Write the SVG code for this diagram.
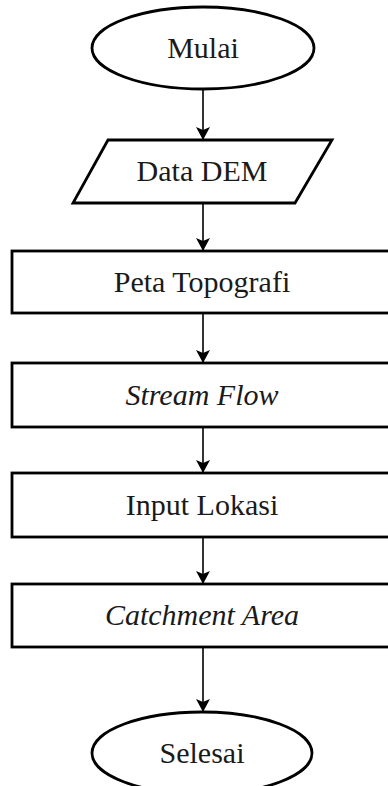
<svg xmlns="http://www.w3.org/2000/svg" width="388" height="786" viewBox="0 0 388 786">
<style>
.shape{fill:#fff;stroke:#000;stroke-width:2.8}
.lbl{font-family:"Liberation Serif","Times New Roman",serif;font-size:30px;fill:#1a1a1a;text-anchor:middle}
.it{font-style:italic}
.conn{stroke:#000;stroke-width:1.6;fill:none;marker-end:url(#arrd)}
</style>
<defs>
<marker id="arrd" markerUnits="userSpaceOnUse" markerWidth="14" markerHeight="14" viewBox="0 0 14 14" refX="7" refY="13" orient="0">
<path d="M0,0 L7,3 L14,0 L7,13 Z" fill="#000"/>
</marker>
</defs>
<g id="connectors">
<line class="conn" x1="203" y1="89" x2="203" y2="140"/>
<line class="conn" x1="203" y1="203" x2="203" y2="251"/>
<line class="conn" x1="203" y1="313" x2="203" y2="363"/>
<line class="conn" x1="203" y1="427" x2="203" y2="473"/>
<line class="conn" x1="203" y1="537" x2="203" y2="584"/>
<line class="conn" x1="203" y1="647" x2="203" y2="712"/>
</g>
<g id="mulai">
<ellipse class="shape" cx="203" cy="48" rx="111" ry="41"/>
<text class="lbl" x="203" y="58">Mulai</text>
</g>
<g id="data-dem">
<polygon class="shape" points="108,140 332,140 295,203 73,203"/>
<text class="lbl" x="202" y="181">Data DEM</text>
</g>
<g id="peta-topografi">
<rect class="shape" x="12" y="251" width="400" height="62"/>
<text class="lbl" x="202" y="292">Peta Topografi</text>
</g>
<g id="stream-flow">
<rect class="shape" x="12" y="363" width="400" height="64"/>
<text class="lbl it" x="202" y="405">Stream Flow</text>
</g>
<g id="input-lokasi">
<rect class="shape" x="12" y="473" width="400" height="64"/>
<text class="lbl" x="202" y="515">Input Lokasi</text>
</g>
<g id="catchment-area">
<rect class="shape" x="12" y="584" width="400" height="63"/>
<text class="lbl it" x="202" y="625">Catchment Area</text>
</g>
<g id="selesai">
<ellipse class="shape" cx="202" cy="753" rx="110" ry="41"/>
<text class="lbl" x="202" y="763">Selesai</text>
</g>
</svg>
